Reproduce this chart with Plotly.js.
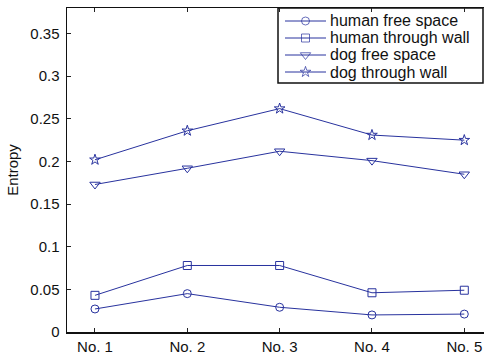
<!DOCTYPE html>
<html>
<head>
<meta charset="utf-8">
<script src="https://cdn.plot.ly/plotly-3.0.1.min.js"></script>
<style>
  html, body { margin: 0; padding: 0; background: #fff; overflow: hidden; }
  #chart { width: 492px; height: 355px; }
</style>
</head>
<body>
<div id="chart"></div>
<script>
// Measurement positions
const positions = [1, 2, 3, 4, 5];
const positionLabels = ['No. 1', 'No. 2', 'No. 3', 'No. 4', 'No. 5'];

// Entropy per scenario
const humanFreeSpace   = [0.027, 0.045, 0.029, 0.020, 0.021];
const humanThroughWall = [0.043, 0.078, 0.078, 0.046, 0.049];
const dogFreeSpace     = [0.173, 0.192, 0.212, 0.201, 0.185];
const dogThroughWall   = [0.202, 0.236, 0.262, 0.231, 0.225];

const seriesNames = ['human free space', 'human through wall', 'dog free space', 'dog through wall'];
const seriesValues = [humanFreeSpace, humanThroughWall, dogFreeSpace, dogThroughWall];
const seriesSymbols = ['circle-open', 'square-open', 'triangle-down-open', 'star-open'];
const seriesSizes = [8, 8, 9, 8];

const lineColor = 'rgb(40,50,158)';
const fontFamily = '"Liberation Sans", Arial, sans-serif';
const tickFont = { family: fontFamily, size: 15, color: '#111' };
const legendFontSize = 16;

// Plot area geometry (pixels) used to place the boxed legend in paper units
const W = 492, H = 355;
const M = { l: 67, r: 0, t: 8, b: 23 };
const pw = W - M.l - M.r, ph = H - M.t - M.b;
const px = x => (x - M.l) / pw;
const py = y => (H - M.b - y) / ph;

const legendBox = { x0: 278, x1: 483, y0: 8, y1: 83 };
const legendRows = [21, 38, 55, 72];
const sampleX = [285, 305.5, 326];
const textX = 328;

const traces = seriesValues.map((vals, i) => ({
  x: positions,
  y: vals,
  name: seriesNames[i],
  type: 'scatter',
  mode: 'lines+markers',
  showlegend: false,
  line: { color: lineColor, width: 1 },
  marker: { symbol: seriesSymbols[i], size: seriesSizes[i], color: lineColor, line: { color: lineColor, width: 1 } }
}));

// Legend samples: short line with the series marker in its middle
seriesNames.forEach((name, i) => {
  const yy = py(legendRows[i]);
  traces.push({
    x: sampleX.map(px),
    y: [yy, yy, yy],
    xaxis: 'x2', yaxis: 'y2',
    type: 'scatter',
    mode: 'lines+markers',
    showlegend: false,
    hoverinfo: 'skip',
    line: { color: lineColor, width: 1 },
    marker: { symbol: seriesSymbols[i], size: [0, seriesSizes[i], 0], color: lineColor, line: { color: lineColor, width: [0, 1, 0] } }
  });
});

const annotations = seriesNames.map((name, i) => ({
  xref: 'paper', yref: 'paper',
  x: px(textX), y: py(legendRows[i]),
  xanchor: 'left', yanchor: 'middle',
  text: name, showarrow: false,
  font: { family: fontFamily, size: legendFontSize, color: '#111' }
}));

const layout = {
  width: W,
  height: H,
  margin: M,
  paper_bgcolor: '#fff',
  plot_bgcolor: '#fff',
  showlegend: false,
  font: tickFont,
  shapes: [{
    type: 'rect', xref: 'paper', yref: 'paper', layer: 'below',
    x0: px(legendBox.x0), x1: px(legendBox.x1), y0: py(legendBox.y1), y1: py(legendBox.y0),
    line: { color: '#111', width: 1.5 }, fillcolor: '#fff'
  }],
  annotations: annotations,
  xaxis: {
    range: [0.697, 5.3],
    tickvals: positions,
    ticktext: positionLabels,
    ticks: 'inside', ticklen: 4, tickwidth: 1, tickcolor: '#222',
    showline: true, linecolor: '#111', linewidth: 1.5,
    mirror: 'ticks',
    showgrid: false, zeroline: false,
    tickfont: tickFont
  },
  yaxis: {
    range: [0, 0.38],
    tick0: 0, dtick: 0.05,
    ticks: 'inside', ticklen: 4, tickwidth: 1, tickcolor: '#222',
    ticklabelstandoff: 3,
    showline: true, linecolor: '#111', linewidth: 1.5,
    showgrid: false, zeroline: false,
    tickfont: tickFont,
    title: { text: 'Entropy', font: { family: fontFamily, size: 15, color: '#111' }, standoff: 8 }
  },
  xaxis2: { overlaying: 'x', range: [0, 1], visible: false, fixedrange: true },
  yaxis2: { overlaying: 'y', range: [0, 1], visible: false, fixedrange: true }
};

Plotly.newPlot('chart', traces, layout, { displayModeBar: false, staticPlot: true });
</script>
</body>
</html>
